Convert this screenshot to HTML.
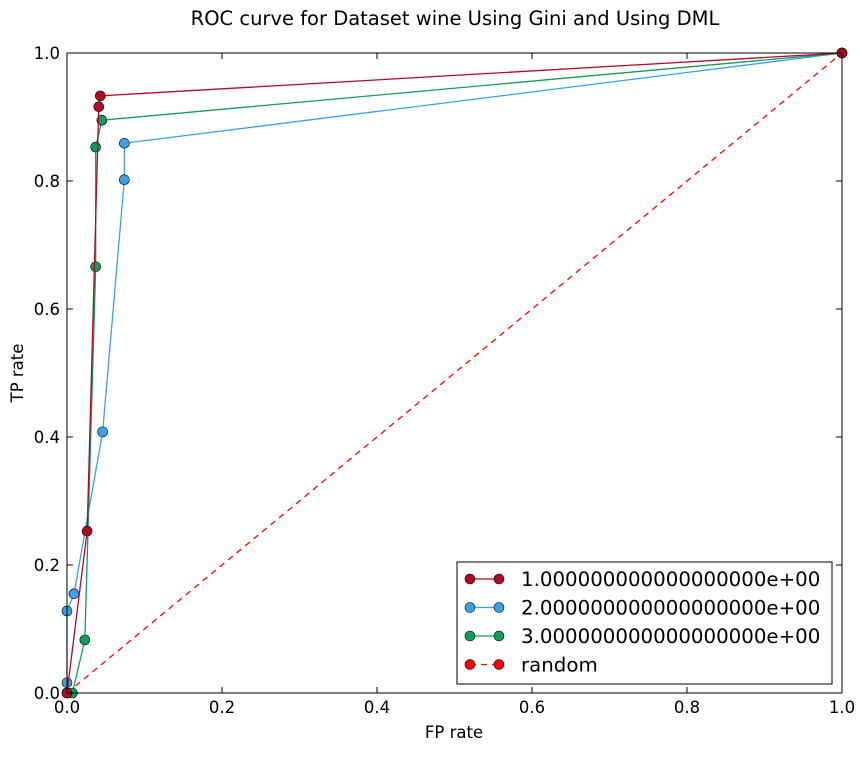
<!DOCTYPE html>
<html><head><meta charset="utf-8"><style>
body{margin:0;background:#fff;font-family:"Liberation Sans","DejaVu Sans",sans-serif}
text{font-family:"DejaVu Sans","Liberation Sans",sans-serif}
</style></head><body>
<svg id="chart" width="865" height="752">
<rect width="865" height="752" fill="#fff"/>
<text x="455" y="25" text-anchor="middle" font-size="19.5">ROC curve for Dataset wine Using Gini and Using DML</text>
<g id="ticks"></g>
<g id="series"></g>
<rect x="67" y="53" width="775" height="640" fill="none" stroke="#000" stroke-width="1"/>
<text x="454" y="738" text-anchor="middle" font-size="16.5">FP rate</text>
<text x="23" y="373" text-anchor="middle" font-size="16.5" transform="rotate(-90 23 373)">TP rate</text>
<g id="legend"></g>
</svg>
<script>
const xTicks=[0,0.2,0.4,0.6,0.8,1.0];
const yTicks=[0,0.2,0.4,0.6,0.8,1.0];
const tickLabels=["0.0","0.2","0.4","0.6","0.8","1.0"];
const seriesNames=["1.000000000000000000e+00","2.000000000000000000e+00","3.000000000000000000e+00","random"];
const s1x=[0,0.026,0.041,0.043,1];
const s1y=[0,0.253,0.916,0.933,1];
const s2x=[0,0,0,0.009,0.046,0.074,0.074,1];
const s2y=[0,0.016,0.128,0.155,0.408,0.802,0.859,1];
const s3x=[0,0.007,0.023,0.037,0.037,0.045,1];
const s3y=[0,0,0.083,0.666,0.853,0.895,1];
const rx=[0,1];
const ry=[0,1];
const X=v=>67+v*775, Y=v=>693-v*640;
const NS="http://www.w3.org/2000/svg";
function mk(t,a,p){const e=document.createElementNS(NS,t);for(const k in a)e.setAttribute(k,a[k]);p.appendChild(e);return e;}
const tg=document.getElementById('ticks');
xTicks.forEach((v,i)=>{
  const l=mk('line',{x1:X(v),x2:X(v),y1:693,y2:687,stroke:'#000'},tg);
  
  
  const l2=mk('line',{x1:X(v),x2:X(v),y1:53,y2:59,stroke:'#000'},tg);
  
  
  const t=mk('text',{x:X(v),y:713,'text-anchor':'middle','font-size':16.5},tg);t.textContent=tickLabels[i];
  
  
});
yTicks.forEach((v,i)=>{
  const l=mk('line',{x1:67,x2:73,y1:Y(v),y2:Y(v),stroke:'#000'},tg);
  
  
  const l2=mk('line',{x1:836,x2:842,y1:Y(v),y2:Y(v),stroke:'#000'},tg);
  
  
  const t=mk('text',{x:60,y:Y(v)+6,'text-anchor':'end','font-size':16.5},tg);t.textContent=tickLabels[i];
  
  
});
const sg=document.getElementById('series');
const defs=[[rx,ry,'#ff0000','6,5',false],[s2x,s2y,'#3aa0e8',null,true],[s3x,s3y,'#109e58',null,true],[s1x,s1y,'#b00a25',null,true]];
const names=['random-line','series-2-line','series-3-line','series-1-line'];
defs.forEach((d,k)=>{
  const pts=d[0].map((v,i)=>X(v)+','+Y(d[1][i])).join(' ');
  const pl=mk('polyline',{points:pts,fill:'none',stroke:d[2],'stroke-width':1.3},sg);
  if(d[3])pl.setAttribute('stroke-dasharray',d[3]);
  
  
  d[0].forEach((v,i)=>{
    if(!d[4]&&i===0)return;
    const c=mk('circle',{cx:X(v),cy:Y(d[1][i]),r:5,fill:d[2],stroke:'#000','stroke-width':0.6},sg);
    
    
  });
});
const lg=document.getElementById('legend');
const box=mk('rect',{x:457,y:562,width:375,height:122,fill:'#fff',stroke:'#000'},lg);


const lc=['#b00a25','#3aa0e8','#109e58','#ff0000'];
seriesNames.forEach((n,i)=>{
  const y=579+i*28.5;
  const ln=mk('line',{x1:470,x2:499,y1:y,y2:y,stroke:lc[i],'stroke-width':1.3},lg);
  if(i===3)ln.setAttribute('stroke-dasharray','6,5');
  
  
  [470,499].forEach(cx=>{const c=mk('circle',{cx:cx,cy:y,r:5,fill:lc[i],stroke:'#000','stroke-width':0.6},lg);
    
    });
  const t=mk('text',{x:521,y:y+7,'font-size':19.8},lg);t.textContent=n;
  
  
});
</script>
</body></html>
